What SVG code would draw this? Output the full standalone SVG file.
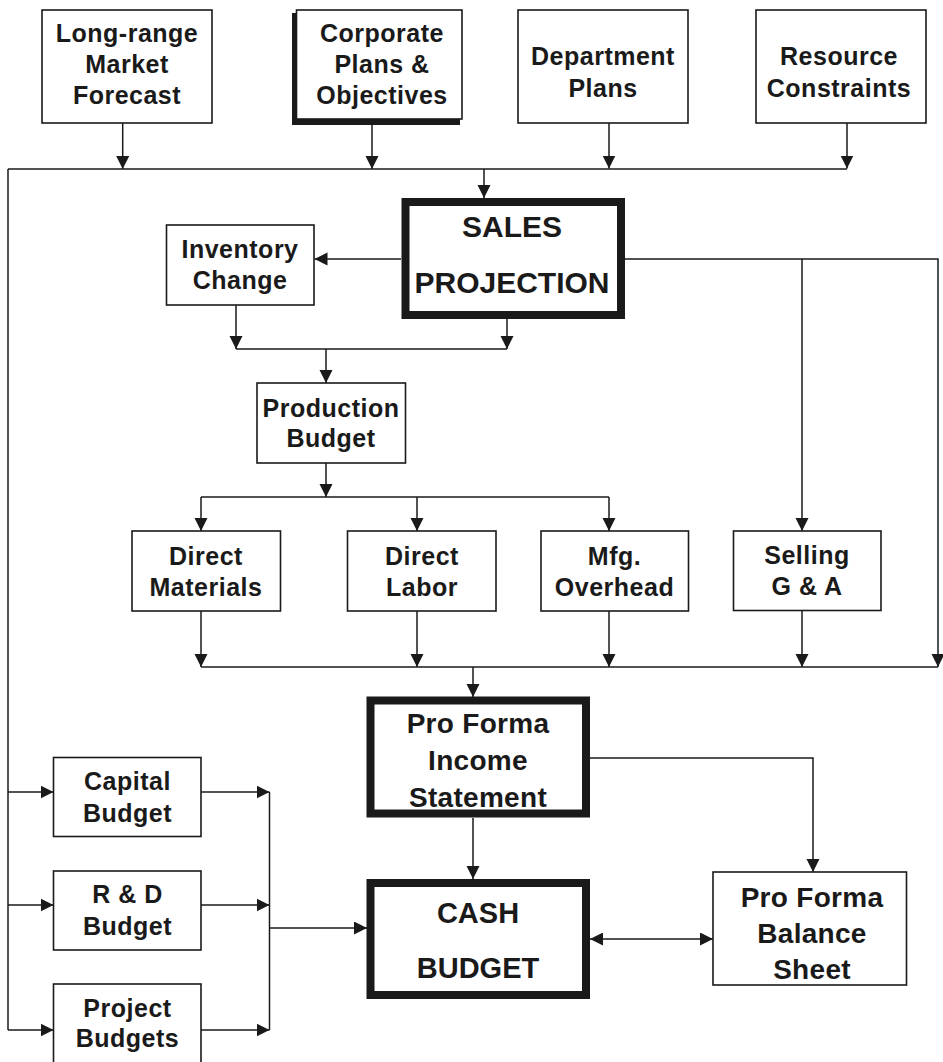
<svg xmlns="http://www.w3.org/2000/svg" width="943" height="1062" viewBox="0 0 943 1062">
<defs>
<style>
.box{fill:#fff;stroke:#1a1a1a;stroke-width:1.6}
.thick{fill:#fff;stroke:#1a1a1a;stroke-width:8}
.t{font-family:"Liberation Sans",Arial,sans-serif;font-weight:bold;font-size:25px;letter-spacing:0.5px;fill:#1a1a1a;text-anchor:middle}
.tb{font-family:"Liberation Sans",Arial,sans-serif;font-weight:bold;font-size:28px;letter-spacing:0.3px;fill:#1a1a1a;text-anchor:middle}
.tc{font-family:"Liberation Sans",Arial,sans-serif;font-weight:bold;font-size:30px;fill:#1a1a1a;text-anchor:middle}
.c{fill:none;stroke:#1a1a1a;stroke-width:1.5}
.a{marker-end:url(#ah)}
</style>
<marker id="ah" markerUnits="userSpaceOnUse" markerWidth="14" markerHeight="14" refX="13" refY="6.5" orient="auto">
<path d="M0,0 L13,6.5 L0,13 Z" fill="#1a1a1a"/>
</marker>
<marker id="ahs" markerUnits="userSpaceOnUse" markerWidth="14" markerHeight="14" refX="0" refY="6.5" orient="auto">
<path d="M13,0 L0,6.5 L13,13 Z" fill="#1a1a1a"/>
</marker>
</defs>
<rect width="943" height="1062" fill="#fff"/>

<g id="connectors">
<path class="c a" d="M122.7,123 V169"/>
<path class="c a" d="M372,125 V169"/>
<path class="c a" d="M609,123 V168.5"/>
<path class="c a" d="M847,123 V168.5"/>
<path class="c" d="M8,169 H847"/>
<path class="c" d="M8,169 V1030"/>
<path class="c a" d="M484,169 V198"/>
<path class="c a" d="M401,259 H314.5"/>
<path class="c a" d="M236,305 V349"/>
<path class="c a" d="M507,319 V349"/>
<path class="c" d="M236,349 H507"/>
<path class="c a" d="M326,349 V383"/>
<path class="c a" d="M326,463 V497"/>
<path class="c" d="M201,497 H609"/>
<path class="c a" d="M201,497 V531"/>
<path class="c a" d="M417,497 V531"/>
<path class="c a" d="M609,497 V531"/>
<path class="c a" d="M625,259 H938 V667"/>
<path class="c a" d="M802,259 V531"/>
<path class="c a" d="M201,611 V667"/>
<path class="c a" d="M417,611 V667"/>
<path class="c a" d="M609,611 V667"/>
<path class="c a" d="M802,611 V667"/>
<path class="c" d="M201,667 H938"/>
<path class="c a" d="M473,667 V697"/>
<path class="c a" d="M473,818 V879"/>
<path class="c a" d="M590,758 H813 V872"/>
<path class="c a" d="M590,939 H713" marker-start="url(#ahs)"/>
<path class="c a" d="M8,792 H53.5"/>
<path class="c a" d="M8,905 H53.5"/>
<path class="c a" d="M8,1030 H53.5"/>
<path class="c a" d="M201,792 H269.5"/>
<path class="c a" d="M201,905 H269.5"/>
<path class="c a" d="M201,1030 H269.5"/>
<path class="c" d="M269.5,792 V1030"/>
<path class="c a" d="M269.5,928 H367"/>
</g>

<g id="n-longrange">
<rect class="box" x="42" y="10" width="170" height="113"/>
<text class="t" x="127" y="42">Long-range</text>
<text class="t" x="127" y="73">Market</text>
<text class="t" x="127" y="104">Forecast</text>
</g>

<g id="n-corporate">
<rect x="292" y="13" width="168" height="112" fill="#1a1a1a"/>
<rect class="box" x="296.5" y="10" width="165.5" height="109"/>
<text class="t" x="382" y="42">Corporate</text>
<text class="t" x="382" y="73">Plans &amp;</text>
<text class="t" x="382" y="104">Objectives</text>
</g>

<g id="n-department">
<rect class="box" x="518" y="10" width="170" height="113"/>
<text class="t" x="603" y="65">Department</text>
<text class="t" x="603" y="97">Plans</text>
</g>

<g id="n-resource">
<rect class="box" x="756" y="10" width="170" height="113"/>
<text class="t" x="839" y="65">Resource</text>
<text class="t" x="839" y="97">Constraints</text>
</g>

<g id="n-sales">
<rect class="thick" x="405.5" y="202" width="215.5" height="113" stroke-width="7.5"/>
<text class="tc" x="512" y="237">SALES</text>
<text class="tc" x="512" y="293">PROJECTION</text>
</g>

<g id="n-inventory">
<rect class="box" x="166.5" y="225" width="147.5" height="80"/>
<text class="t" x="240" y="258">Inventory</text>
<text class="t" x="240" y="289">Change</text>
</g>

<g id="n-production">
<rect class="box" x="257" y="383" width="148.5" height="80"/>
<text class="t" x="331" y="417">Production</text>
<text class="t" x="331" y="447">Budget</text>
</g>

<g id="n-materials">
<rect class="box" x="132" y="531" width="148.5" height="80"/>
<text class="t" x="206" y="565">Direct</text>
<text class="t" x="206" y="596">Materials</text>
</g>

<g id="n-labor">
<rect class="box" x="347.5" y="531" width="148.5" height="80"/>
<text class="t" x="422" y="565">Direct</text>
<text class="t" x="422" y="596">Labor</text>
</g>

<g id="n-overhead">
<rect class="box" x="541" y="531" width="147.5" height="80"/>
<text class="t" x="614.5" y="565">Mfg.</text>
<text class="t" x="614.5" y="596">Overhead</text>
</g>

<g id="n-selling">
<rect class="box" x="733.5" y="531" width="147.5" height="79.5"/>
<text class="t" x="807" y="564">Selling</text>
<text class="t" x="807" y="595">G &amp; A</text>
</g>

<g id="n-income">
<rect class="thick" x="370.5" y="700.5" width="215.5" height="113"/>
<text class="tb" x="478" y="733">Pro Forma</text>
<text class="tb" x="478" y="770">Income</text>
<text class="tb" x="478" y="807">Statement</text>
</g>

<g id="n-cash">
<rect class="thick" x="370.5" y="883" width="215.5" height="112"/>
<text class="tc" x="478" y="923" style="font-size:29px">CASH</text>
<text class="tc" x="478" y="978" style="font-size:29px">BUDGET</text>
</g>

<g id="n-balance">
<rect class="box" x="713" y="872" width="193.5" height="113"/>
<text class="tb" x="812" y="907">Pro Forma</text>
<text class="tb" x="812" y="943">Balance</text>
<text class="tb" x="812" y="979">Sheet</text>
</g>

<g id="n-capital">
<rect class="box" x="53.5" y="757.5" width="147.5" height="79"/>
<text class="t" x="127.5" y="790">Capital</text>
<text class="t" x="127.5" y="822">Budget</text>
</g>

<g id="n-rd">
<rect class="box" x="53.5" y="871" width="147.5" height="79"/>
<text class="t" x="127.5" y="903">R &amp; D</text>
<text class="t" x="127.5" y="935">Budget</text>
</g>

<g id="n-project">
<rect class="box" x="53.5" y="984" width="147.5" height="90"/>
<text class="t" x="127.5" y="1017">Project</text>
<text class="t" x="127.5" y="1047">Budgets</text>
</g>
</svg>
